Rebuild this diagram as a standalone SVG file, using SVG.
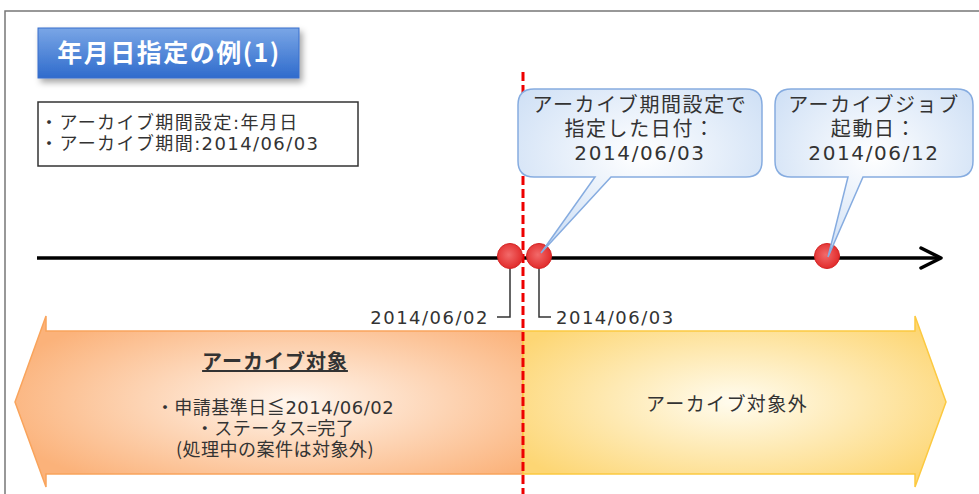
<svg xmlns="http://www.w3.org/2000/svg" width="979" height="494" viewBox="0 0 979 494">
<defs>
<style>
text{font-family:"Noto Sans CJK JP","Noto Sans",sans-serif;fill:#333}
.num{font-family:"DejaVu Sans","Noto Sans CJK JP",sans-serif}
.t18{font-size:18px;letter-spacing:1.4px}
.t20{font-size:20px;letter-spacing:1.6px}
.mid{text-anchor:middle}
.lead{fill:none;stroke:#333;stroke-width:1.5}
.dot{fill:url(#gDot);stroke:#d42424;stroke-width:1}
.callout{fill:url(#gCall);stroke:#86ace0;stroke-width:1.5}
</style>
<linearGradient id="gTitle" x1="0" y1="0" x2="0" y2="1">
<stop offset="0" stop-color="#7aa6e6"/>
<stop offset="1" stop-color="#2f6bcc"/>
</linearGradient>
<radialGradient id="gCall" cx="0.5" cy="0.4" r="0.7">
<stop offset="0" stop-color="#ffffff"/>
<stop offset="1" stop-color="#c9dcf4"/>
</radialGradient>
<radialGradient id="gOrange" cx="0.55" cy="0.5" r="0.6">
<stop offset="0" stop-color="#fff6ee"/>
<stop offset="1" stop-color="#fbb27a"/>
</radialGradient>
<radialGradient id="gYellow" cx="0.5" cy="0.5" r="0.6">
<stop offset="0" stop-color="#fffcef"/>
<stop offset="1" stop-color="#fdd674"/>
</radialGradient>
<radialGradient id="gDot" cx="0.45" cy="0.45" r="0.6">
<stop offset="0" stop-color="#f26a6a"/>
<stop offset="1" stop-color="#e02626"/>
</radialGradient>
<filter id="shadow" x="-10%" y="-20%" width="125%" height="160%">
<feDropShadow dx="3" dy="4" stdDeviation="3" flood-color="#000" flood-opacity="0.35"/>
</filter>
</defs>
<rect width="979" height="494" fill="#fff"/>
<path d="M5 494 V11 H979" fill="none" stroke="#777" stroke-width="1.5"/>

<g id="title">
<rect x="38" y="28" width="261" height="50" fill="url(#gTitle)" stroke="#3a6fcc" stroke-width="1" filter="url(#shadow)"/>
<text x="169" y="62" class="mid" style="font-size:25px;font-weight:bold;fill:#fff;letter-spacing:1.5px">年月日指定の例(1)</text>
</g>

<g id="info">
<rect x="38" y="102" width="320" height="64" fill="#fff" stroke="#333" stroke-width="1.5"/>
<text x="40" y="129" class="t18">・アーカイブ期間設定<tspan class="num">:</tspan>年月日</text>
<text x="40" y="150" class="t18">・アーカイブ期間<tspan class="num">:2014/06/03</tspan></text>
</g>

<g id="range-in">
<polygon points="15,402 46,316 46,331 523,331 523,474 46,474 46,487" fill="url(#gOrange)" stroke="#f9a45c" stroke-width="1.5"/>
<text x="275" y="369" class="mid" style="font-size:20px;font-weight:bold;text-decoration:underline;letter-spacing:1px">アーカイブ対象</text>
<text x="275" y="414" class="mid t18" style="letter-spacing:0.5px">・申請基準日≦<tspan class="num">2014/06/02</tspan></text>
<text x="275" y="435" class="mid t18" style="letter-spacing:0.5px">・ステータス=完了</text>
<text x="275" y="456" class="mid t18" style="letter-spacing:0.5px">(処理中の案件は対象外)</text>
</g>

<g id="range-out">
<polygon points="523,331 915,331 915,316 946,402 915,487 915,474 523,474" fill="url(#gYellow)" stroke="#fcc940" stroke-width="1.5"/>
<text x="727" y="411" class="mid t18" style="font-size:19px">アーカイブ対象外</text>
</g>

<g id="connectors">
<line x1="37" y1="258" x2="940" y2="258" stroke="#000" stroke-width="3.5"/>
<polyline points="921,248 941,258 921,268" fill="none" stroke="#000" stroke-width="3.5" stroke-linecap="round" stroke-linejoin="round"/>
<line x1="523" y1="72" x2="523" y2="494" stroke="#e00" stroke-width="3" stroke-dasharray="9,4"/>
<polyline class="lead" points="510,268 510,317 497,317"/>
<polyline class="lead" points="539,268 539,317 551,317"/>
</g>

<g id="dots">
<circle class="dot" cx="510" cy="256" r="12.5"/>
<circle class="dot" cx="539" cy="256" r="12.5"/>
<circle class="dot" cx="827" cy="256" r="12.5"/>
</g>

<g id="date-labels">
<text x="489" y="324" class="t18 num" style="text-anchor:end;letter-spacing:1.5px">2014/06/02</text>
<text x="556" y="324" class="t18 num" style="letter-spacing:1.5px">2014/06/03</text>
</g>

<g id="callout-setting">
<path class="callout" d="M534 89 H746 Q762 89 762 105 V161 Q762 177 746 177 H611 L541 253 L595 177 H534 Q518 177 518 161 V105 Q518 89 534 89 Z"/>
<text x="640" y="112" class="mid t20">アーカイブ期間設定で</text>
<text x="640" y="136" class="mid t20">指定した日付：</text>
<text x="640" y="160" class="mid t20 num">2014/06/03</text>
</g>

<g id="callout-job">
<path class="callout" d="M791 89 H957 Q973 89 973 105 V161 Q973 177 957 177 H863 L828 257 L848 177 H791 Q775 177 775 161 V105 Q775 89 791 89 Z"/>
<text x="874" y="112" class="mid t20">アーカイブジョブ</text>
<text x="874" y="136" class="mid t20">起動日：</text>
<text x="874" y="160" class="mid t20 num">2014/06/12</text>
</g>
</svg>
